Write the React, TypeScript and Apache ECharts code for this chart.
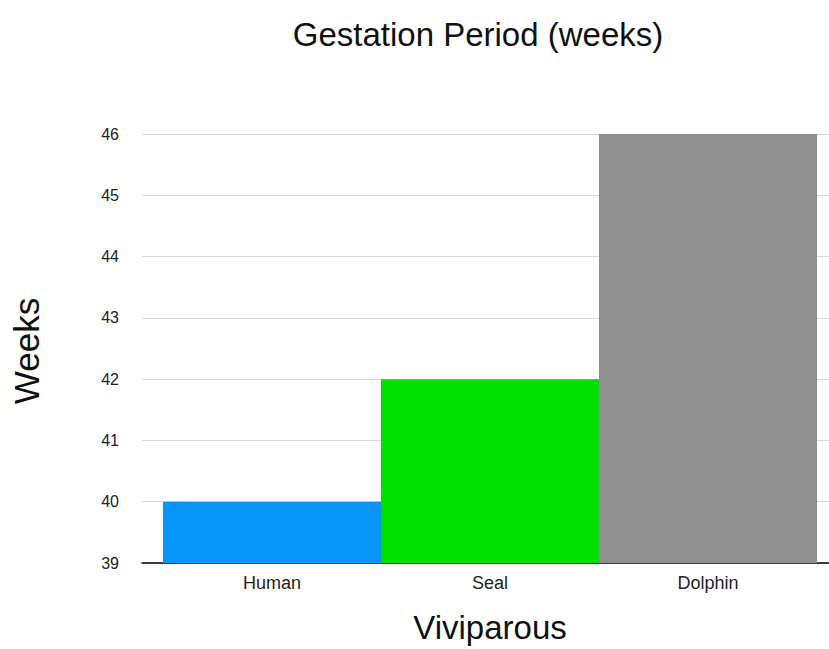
import React, { useEffect, useRef } from "react";
import * as echarts from "echarts";

const categories = ["Human", "Seal", "Dolphin"];
const weeks = [40, 42, 46];
const barColors = ["#0996f9", "#00e000", "#8e8e8e"];
const yMin = 39;
const yMax = 46;
const yStep = 1;

export default function App() {
  const ref = useRef<HTMLDivElement>(null);
  useEffect(() => {
    const chart = echarts.init(ref.current!, null, { renderer: "svg" });
    const font = "'Liberation Sans', Arial, Helvetica, sans-serif";
    chart.setOption({
      animation: false,
      backgroundColor: "#ffffff",
      title: {
        text: "Gestation Period (weeks)",
        left: 473,
        top: 13,
        textAlign: "center",
        textStyle: { fontFamily: font, fontSize: 33, fontWeight: "normal", color: "#111" },
      },
      graphic: [
        {
          type: "text",
          x: 26,
          y: 351,
          rotation: Math.PI / 2,
          style: {
            text: "Weeks",
            fontFamily: font,
            fontSize: 35,
            fill: "#111",
            align: "center",
            verticalAlign: "middle",
          },
        },
        {
          type: "text",
          x: 490,
          y: 627,
          style: {
            text: "Viviparous",
            fontFamily: font,
            fontSize: 33,
            fill: "#111",
            align: "center",
            verticalAlign: "middle",
          },
        },
      ],
      grid: [
        { left: 163, right: 12, top: 134, bottom: 86 },
        { left: 142, right: 0, top: 134, bottom: 86 },
      ],
      xAxis: [
        {
          type: "category",
          gridIndex: 0,
          data: categories,
          axisLine: { show: false },
          axisTick: { show: false },
          axisLabel: { fontFamily: font, fontSize: 18, color: "#222", margin: 11 },
        },
        {
          type: "value",
          gridIndex: 1,
          min: 0,
          max: 1,
          axisLine: { show: true, onZero: false, lineStyle: { color: "#000", width: 1.5 } },
          axisTick: { show: false },
          axisLabel: { show: false },
          splitLine: { show: false },
        },
      ],
      yAxis: [
        {
          type: "value",
          gridIndex: 0,
          min: yMin,
          max: yMax,
          interval: yStep,
          axisLine: { show: false },
          axisTick: { show: false },
          axisLabel: { show: false },
          splitLine: { show: false },
        },
        {
          type: "value",
          gridIndex: 1,
          min: yMin,
          max: yMax,
          interval: yStep,
          axisLine: { show: false },
          axisTick: { show: false },
          axisLabel: { fontFamily: font, fontSize: 16, color: "#222", margin: 23 },
          splitLine: { show: true, lineStyle: { color: "#d9d9d9", width: 1 } },
        },
      ],
      series: [
        {
          type: "bar",
          xAxisIndex: 0,
          yAxisIndex: 0,
          barCategoryGap: "0%",
          z: 3,
          data: weeks.map((v, i) => ({ value: v, itemStyle: { color: barColors[i] } })),
        },
      ],
    });
    return () => chart.dispose();
  }, []);
  return (
    <div
      ref={ref}
      style={{ position: "fixed", left: 0, top: 0, width: 829, height: 649 }}
    />
  );
}
